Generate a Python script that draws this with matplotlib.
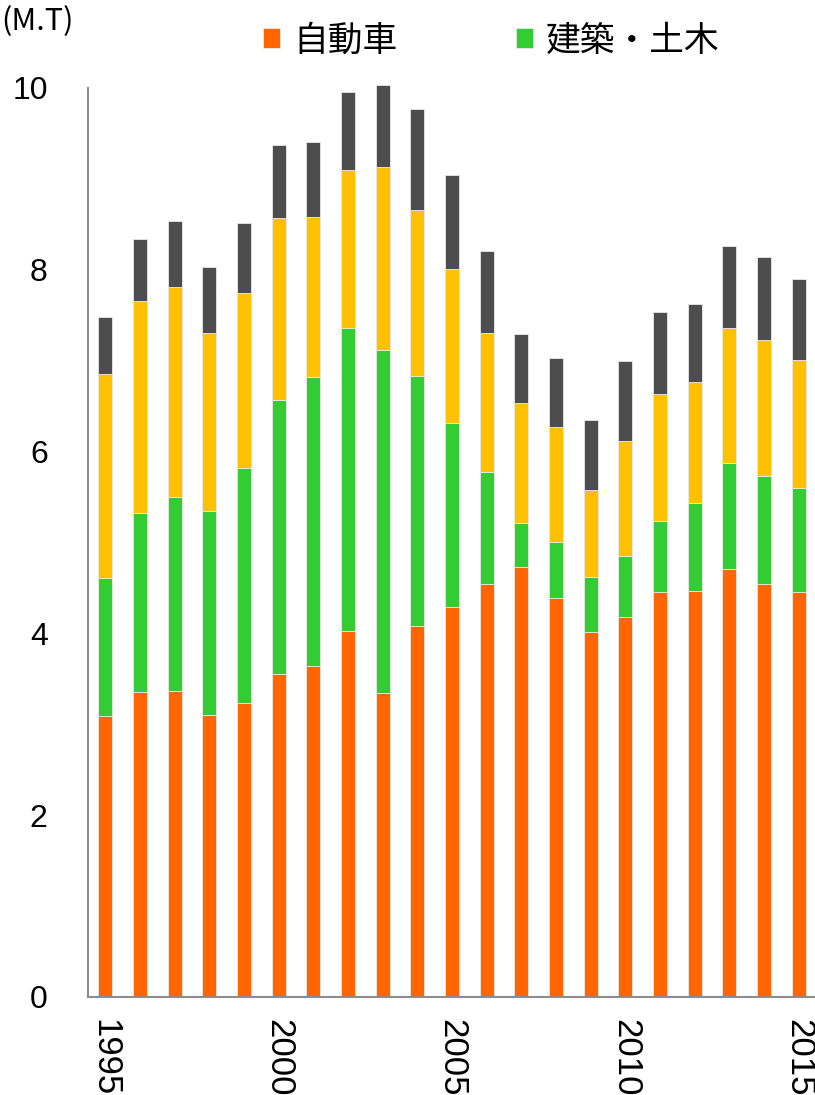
import matplotlib
matplotlib.use("Agg")
import matplotlib.pyplot as plt
import numpy as np

plt.rcParams['font.family'] = ['Liberation Sans', 'Noto Sans CJK JP', 'DejaVu Sans']

years = list(range(1995, 2016))
tick_labels = ["1995", "2000", "2005", "2010", "2015"]

automobile = [3.09, 3.36, 3.37, 3.10, 3.23, 3.55, 3.64, 4.03, 3.34, 4.08, 4.29,
              4.54, 4.73, 4.39, 4.02, 4.18, 4.45, 4.47, 4.71, 4.54, 4.46]
construction = [1.52, 1.96, 2.13, 2.25, 2.59, 3.02, 3.18, 3.33, 3.78, 2.75, 2.03,
                1.24, 0.48, 0.62, 0.60, 0.67, 0.79, 0.96, 1.17, 1.19, 1.14]
third = [2.24, 2.34, 2.31, 1.95, 1.93, 2.00, 1.76, 1.74, 2.01, 1.83, 1.69,
         1.52, 1.32, 1.26, 0.96, 1.27, 1.39, 1.34, 1.48, 1.50, 1.41]
fourth = [0.63, 0.68, 0.73, 0.73, 0.76, 0.80, 0.83, 0.86, 0.90, 1.11, 1.03,
          0.91, 0.76, 0.76, 0.77, 0.88, 0.91, 0.85, 0.90, 0.91, 0.89]

series = [
    ("自動車", automobile, "#FF6600"),
    ("建築・土木", construction, "#33CC33"),
    ("その他1", third, "#FFC000"),
    ("その他2", fourth, "#4D4D4D"),
]

W, H = 815, 1095
fig = plt.figure(figsize=(W / 100, H / 100), dpi=100)
ax = fig.add_axes([88 / W, (H - 997) / H, (816 - 88) / W, (997 - 88) / H])

x = np.arange(len(years))
bottom = np.zeros(len(years))
handles = []
for name, vals, color in series:
    b = ax.bar(x, vals, width=0.41, bottom=bottom, color=color,
               edgecolor="#E8E8E8", linewidth=0.6, clip_on=False, zorder=2)
    handles.append(b)
    bottom = bottom + np.array(vals)

ax.set_xlim(-0.5, len(years) - 0.5)
ax.set_ylim(0, 10)
ax.set_yticks([0, 2, 4, 6, 8, 10])
ax.set_yticklabels(["0", "2", "4", "6", "8", "10"])
ax.set_xticks([years.index(int(t)) for t in tick_labels])
ax.set_xticklabels(tick_labels, rotation=270, ha="center", va="top")

ax.tick_params(axis="y", length=0, pad=29, labelsize=23)
ax.tick_params(axis="x", length=0, pad=16, labelsize=25)

for s in ["top", "right"]:
    ax.spines[s].set_visible(False)
for s in ["left", "bottom"]:
    ax.spines[s].set_color("#8C8C8C")
    ax.spines[s].set_linewidth(1.5)

leg = fig.legend(handles[:2], [series[0][0], series[1][0]], ncol=2,
                 loc="center left", bbox_to_anchor=(263 / W, 1 - 41 / H),
                 frameon=False, borderpad=0, borderaxespad=0,
                 handlelength=0.5, handleheight=0.5, handletextpad=0.37,
                 columnspacing=3.4,
                 prop={"family": ["Noto Sans CJK JP", "DejaVu Sans"], "size": 25})

fig.text(1 / W, 1 - 22 / H, "(M.T)", ha="left", va="center", fontsize=22,
         family=["Noto Sans CJK JP", "DejaVu Sans"])

fig.savefig("out.png", dpi=100)
